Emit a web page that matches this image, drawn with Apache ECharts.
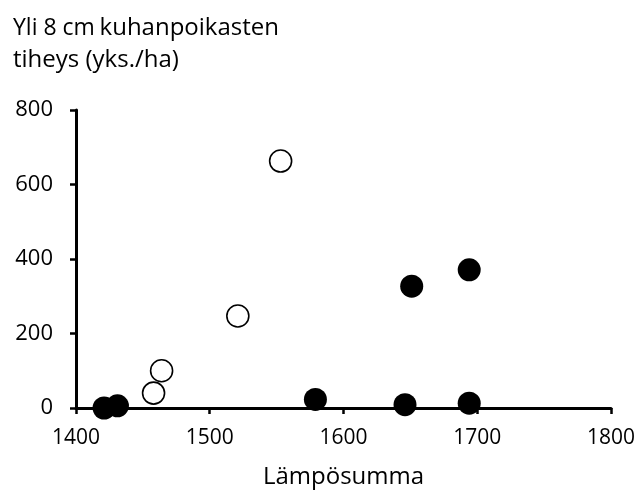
<!DOCTYPE html>
<html>
<head>
<meta charset="utf-8">
<script src="https://cdn.jsdelivr.net/npm/echarts@6/dist/echarts.min.js"></script>
<style>
  html, body { margin: 0; padding: 0; background: #fff; }
  #chart { width: 638px; height: 494px; }
</style>
</head>
<body>
<div id="chart"></div>
<script>
// Heat sum (x) vs. density of pikeperch fry over 8 cm (y)
const openPoints = [
  [1458, 40],
  [1464, 100],
  [1521, 247],
  [1553, 663]
];
const filledPoints = [
  [1421, 0],
  [1431, 6],
  [1579, 23],
  [1646, 9],
  [1651, 327],
  [1694, 13],
  [1694, 371]
];
const xTicks = [1400, 1500, 1600, 1700, 1800];
const yTicks = [0, 200, 400, 600, 800];

const FONT = 'Open Sans';
const chart = echarts.init(document.getElementById('chart'), null, { renderer: 'canvas' });

chart.setOption({
  backgroundColor: '#ffffff',
  animation: false,
  textStyle: { fontFamily: FONT, color: '#000' },
  title: {
    left: 8,
    top: 7,
    text: '{a|Yli 8 cm} {b|kuhanpoikasten}\n{b|tiheys (yks./ha)}',
    textStyle: {
      fontWeight: 'normal',
      rich: {
        a: { fontFamily: FONT, fontSize: 23, fontWeight: 'normal', color: '#000', lineHeight: 32 },
        b: { fontFamily: FONT, fontSize: 24, fontWeight: 'normal', color: '#000', lineHeight: 32 }
      }
    }
  },
  grid: { left: 76, top: 110, width: 536, height: 299, containLabel: false },
  xAxis: {
    type: 'value',
    min: xTicks[0],
    max: xTicks[xTicks.length - 1],
    interval: 100,
    name: 'Lämpösumma',
    nameLocation: 'middle',
    nameGap: 57,
    nameTextStyle: { fontFamily: FONT, fontSize: 24, color: '#000' },
    axisLine: { show: true, onZero: false, lineStyle: { color: '#000', width: 3 } },
    axisTick: { show: true, inside: false, length: 6, lineStyle: { color: '#000', width: 2.5 } },
    axisLabel: { margin: 20, fontFamily: FONT, fontSize: 21, color: '#000', formatter: v => String(v) },
    splitLine: { show: false }
  },
  yAxis: {
    type: 'value',
    min: yTicks[0],
    max: yTicks[yTicks.length - 1],
    interval: 200,
    axisLine: { show: true, onZero: false, lineStyle: { color: '#000', width: 3 } },
    axisTick: { show: true, inside: false, length: 6, lineStyle: { color: '#000', width: 2.5 } },
    axisLabel: { margin: 23, fontFamily: FONT, fontSize: 22, color: '#000', formatter: v => String(v) },
    splitLine: { show: false }
  },
  series: [
    {
      type: 'scatter',
      data: openPoints,
      symbol: 'circle',
      symbolSize: 22,
      clip: false,
      itemStyle: { color: '#fff', borderColor: '#000', borderWidth: 1.6, opacity: 1 },
      z: 5
    },
    {
      type: 'scatter',
      data: filledPoints,
      symbol: 'circle',
      symbolSize: 23,
      clip: false,
      itemStyle: { color: '#000', borderColor: '#000', borderWidth: 0, opacity: 1 },
      z: 6
    }
  ]
});
</script>
</body>
</html>
